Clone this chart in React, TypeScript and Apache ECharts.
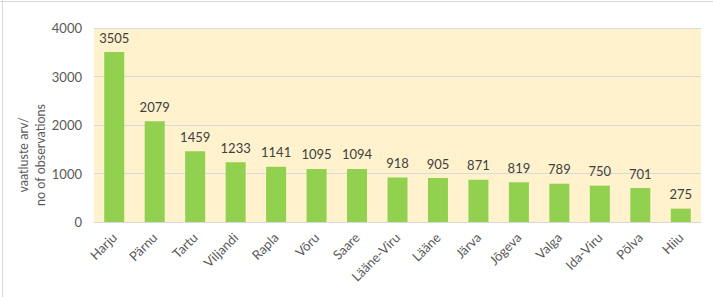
import React, { useEffect, useRef } from "react";
import * as echarts from "echarts";

const categories = ["Harju", "Pärnu", "Tartu", "Viljandi", "Rapla", "Võru", "Saare", "Lääne-Viru", "Lääne", "Järva", "Jõgeva", "Valga", "Ida-Viru", "Põlva", "Hiiu"];
const values = [3505, 2079, 1459, 1233, 1141, 1095, 1094, 918, 905, 871, 819, 789, 750, 701, 275];
const axisTitle = "vaatluste arv/\nno of observations";

const FONT = "Lato, 'Noto Sans', sans-serif";

export default function App() {
  const ref = useRef<HTMLDivElement>(null);
  useEffect(() => {
    if (!ref.current) return;
    const chart = echarts.init(ref.current, null, { renderer: "svg" });
    chart.setOption({
      animation: false,
      backgroundColor: "#ffffff",
      grid: { left: 94, right: 12, top: 28, bottom: 75 },
      xAxis: {
        type: "category",
        data: categories,
        axisLine: { show: true, lineStyle: { color: "#d9d9d9" } },
        axisTick: { show: false },
        axisLabel: { rotate: 45, color: "#595959", fontSize: 13, fontFamily: FONT, margin: 13, interval: 0 },
      },
      yAxis: {
        type: "value",
        min: 0,
        max: 4000,
        interval: 1000,
        axisLine: { show: false },
        axisTick: { show: false },
        axisLabel: { color: "#595959", fontSize: 13, fontFamily: FONT, margin: 12, formatter: (v: number) => String(v) },
        splitLine: { lineStyle: { color: "#d9d9d9" } },
        splitArea: { show: true, areaStyle: { color: ["#FFF2CC", "#FFF2CC"] } },
      },
      graphic: [
        {
          type: "text",
          x: 32,
          y: 155,
          rotation: Math.PI / 2,
          style: {
            text: axisTitle,
            fill: "#595959",
            font: `12.5px ${FONT}`,
            align: "center",
            verticalAlign: "middle",
            lineHeight: 17,
          },
        },
        { type: "line", shape: { x1: 2.5, y1: 0, x2: 2.5, y2: 297 }, style: { stroke: "#d9d9d9", lineWidth: 1 } },
        { type: "line", shape: { x1: 0, y1: 1.5, x2: 713, y2: 1.5 }, style: { stroke: "#d9d9d9", lineWidth: 1 } },
      ],
      series: [
        {
          type: "bar",
          data: values,
          barWidth: 20,
          itemStyle: { color: "#92D050" },
          label: { show: true, position: "top", color: "#404040", fontSize: 13, fontFamily: FONT, distance: 8 },
        },
      ],
    });
    return () => chart.dispose();
  }, []);
  return <div ref={ref} style={{ position: "absolute", left: 0, top: 0, width: 713, height: 297 }} />;
}
